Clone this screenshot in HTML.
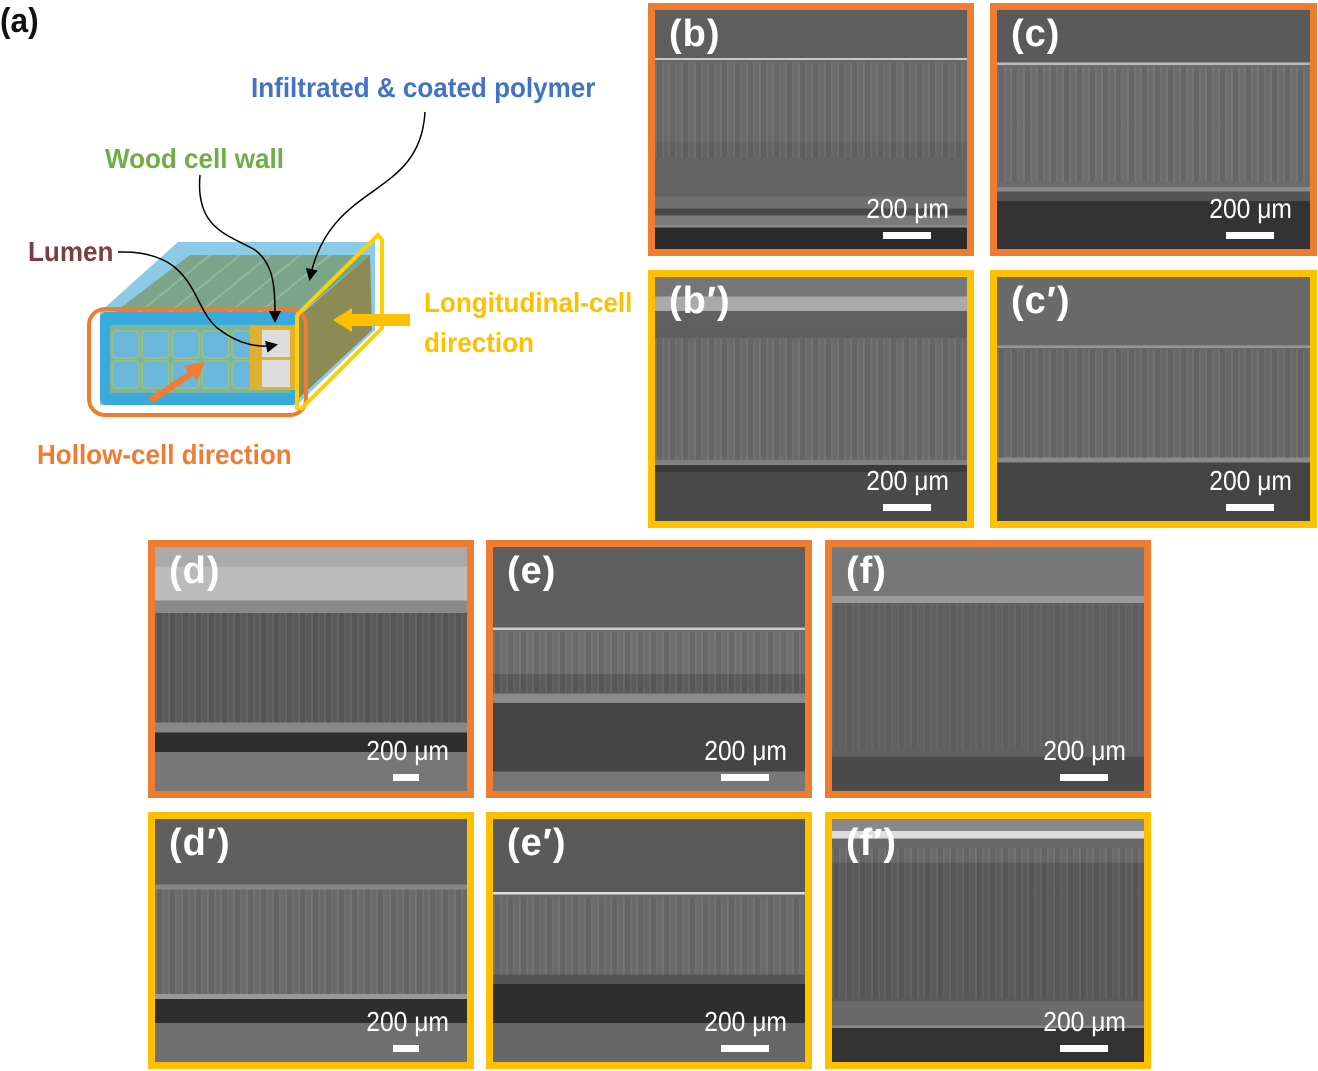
<!DOCTYPE html>
<html><head><meta charset="utf-8"><style>
body{margin:0;background:#fff;}
#c{position:relative;width:1318px;height:1071px;overflow:hidden;font-family:"Liberation Sans",sans-serif;}
.p{position:absolute;box-sizing:border-box;border:7px solid #EE7D31;overflow:hidden;}
.y{border-color:#FFC000;}
.p .l{position:absolute;left:14px;top:3px;color:#fff;font-weight:bold;font-size:38px;letter-spacing:1px;}
.p .s{position:absolute;right:18px;bottom:24px;color:#fff;font-size:28px;transform:scaleX(0.88);transform-origin:right;}
.p .b{position:absolute;bottom:10px;width:48px;height:7px;background:#fff;right:36px;}
.t{position:absolute;font-weight:bold;font-size:28px;transform:scaleX(0.93);transform-origin:left;white-space:nowrap;}
.tex{position:absolute;left:0;right:0;background:repeating-linear-gradient(90deg,rgba(255,255,255,0.06) 0 2px,rgba(0,0,0,0.05) 2px 7px,rgba(255,255,255,0.04) 7px 9px,rgba(0,0,0,0) 9px 13px);}
</style></head><body><div id="c">
<div class="t" style="left:0;top:2px;color:#111;font-size:34px;">(a)</div>
<div class="t" style="left:251px;top:72px;color:#4472C4;">Infiltrated &amp; coated polymer</div>
<div class="t" style="left:105px;top:143px;color:#70AD47;">Wood cell wall</div>
<div class="t" style="left:28px;top:236px;color:#7B3F3F;">Lumen</div>
<div class="t" style="left:424px;top:287px;color:#FFC000;">Longitudinal-cell</div>
<div class="t" style="left:424px;top:327px;color:#FFC000;">direction</div>
<div class="t" style="left:37px;top:439px;color:#EE7D31;">Hollow-cell direction</div>
<svg style="position:absolute;left:0;top:0" width="640" height="540">
<defs><marker id="ar" markerWidth="8" markerHeight="8" refX="6" refY="4" orient="auto"><path d="M0,0 L8,4 L0,8z" fill="#000"/></marker></defs>
<polygon points="100,312 178,242 375,242 375,330 297,405 100,405" fill="#8ccbe6"/>
<polygon points="115,312 190,255 370,255 295,318" fill="#7aa58a"/>
<g stroke="#9fc7a8" stroke-width="2" opacity=".6"><line x1="140" y1="312" x2="210" y2="255"/><line x1="170" y1="312" x2="240" y2="255"/><line x1="200" y1="312" x2="270" y2="255"/><line x1="230" y1="312" x2="300" y2="255"/><line x1="260" y1="312" x2="330" y2="255"/></g>
<polygon points="297,318 370,255 372,330 297,400" fill="#8c8a55"/>
<rect x="100" y="312" width="197" height="93" rx="6" fill="#3aa9dc"/>
<rect x="110" y="325" width="180" height="68" fill="#7fb59a"/>
<g fill="#6bb7db" stroke="#93c08a" stroke-width="2">
<rect x="112" y="331" width="27" height="27" rx="4"/><rect x="142" y="331" width="27" height="27" rx="4"/><rect x="172" y="331" width="27" height="27" rx="4"/><rect x="202" y="331" width="27" height="27" rx="4"/><rect x="232" y="331" width="27" height="27" rx="4"/>
<rect x="112" y="361" width="27" height="27" rx="4"/><rect x="142" y="361" width="27" height="27" rx="4"/><rect x="172" y="361" width="27" height="27" rx="4"/><rect x="202" y="361" width="27" height="27" rx="4"/><rect x="232" y="361" width="27" height="27" rx="4"/></g>
<rect x="250" y="325" width="45" height="65" fill="#e0b030"/>
<rect x="262" y="330" width="28" height="27" fill="#ddd"/><rect x="262" y="360" width="28" height="27" fill="#ddd"/>
<rect x="89" y="309" width="217" height="106" rx="16" fill="none" stroke="#EE7D31" stroke-width="4"/>
<polyline points="297,315 378,235 382,240 382,328 300,410" fill="none" stroke="#FFD000" stroke-width="4"/>
<line x1="297" y1="315" x2="297" y2="410" stroke="#FFD000" stroke-width="4"/>
<polygon points="148,398 188,372 184,366 205,362 197,381 193,376 153,403" fill="#EE7D31"/>
<polygon points="410,314 352,314 352,308 333,320 352,332 352,326 410,326" fill="#FFC000"/>
<path d="M118,252 C200,250 190,310 220,330 C240,345 260,348 275,345" fill="none" stroke="#000" stroke-width="1.5" marker-end="url(#ar)"/>
<path d="M200,175 C195,230 230,235 255,250 C275,265 275,290 275,320" fill="none" stroke="#000" stroke-width="1.5" marker-end="url(#ar)"/>
<path d="M425,112 C420,200 330,180 310,278" fill="none" stroke="#000" stroke-width="1.5" marker-end="url(#ar)"/>
</svg>

<div class="p" style="left:648px;top:3px;width:326px;height:253px;background:linear-gradient(#5e5e5e 0 20%,#c8c8c8 20% 21%,#6b6b6b 21% 55%,#646464 55% 78%,#707070 78% 83%,#4a4a4a 83% 86%,#7a7a7a 86% 90%,#8a8a8a 90% 91%,#2a2a2a 91%);"><div class="tex" style="top:22%;height:40%"></div><div class="l">(b)</div><div class="s">200 μm</div><div class="b"></div></div>
<div class="p" style="left:990px;top:3px;width:327px;height:253px;background:linear-gradient(#5a5a5a 0 22%,#bbb 22% 23%,#6c6c6c 23% 74%,#8a8a8a 74% 76%,#555 76% 80%,#333 80%);"><div class="tex" style="top:24%;height:48%"></div><div class="l">(c)</div><div class="s">200 μm</div><div class="b"></div></div>
<div class="p y" style="left:648px;top:270px;width:326px;height:258px;background:linear-gradient(#777 0 8%,#aaa 8% 14%,#606060 14% 20%,#5f5f5f 20% 25%,#6a6a6a 25% 75%,#808080 75% 77%,#3a3a3a 77% 80%,#4a4a4a 80%);"><div class="tex" style="top:25%;height:50%"></div><div class="l">(b′)</div><div class="s">200 μm</div><div class="b"></div></div>
<div class="p y" style="left:990px;top:270px;width:327px;height:258px;background:linear-gradient(#6a6a6a 0 28%,#999 28% 29%,#686868 29% 74%,#8a8a8a 74% 76%,#444 76%);"><div class="tex" style="top:30%;height:44%"></div><div class="l">(c′)</div><div class="s">200 μm</div><div class="b"></div></div>

<div class="p" style="left:148px;top:540px;width:326px;height:258px;background:linear-gradient(#aaa 0 8%,#bbb 8% 22%,#8a8a8a 22% 27%,#5a5a5a 27% 72%,#888 72% 76%,#2d2d2d 76% 84%,#777 84%);"><div class="tex" style="top:27%;height:45%"></div><div class="l">(d)</div><div class="s">200 μm</div><div class="b" style="width:26px;right:48px"></div></div>
<div class="p" style="left:486px;top:540px;width:326px;height:258px;background:linear-gradient(#5e5e5e 0 33%,#ccc 33% 34%,#6e6e6e 34% 52%,#5c5c5c 52% 60%,#8a8a8a 60% 64%,#454545 64% 92%,#777 92%);"><div class="tex" style="top:35%;height:25%"></div><div class="l">(e)</div><div class="s">200 μm</div><div class="b"></div></div>
<div class="p" style="left:825px;top:540px;width:326px;height:258px;background:linear-gradient(#777 0 20%,#999 20% 23%,#606060 23% 86%,#4a4a4a 86%);"><div class="tex" style="top:23%;height:60%;opacity:.6"></div><div class="l">(f)</div><div class="s">200 μm</div><div class="b"></div></div>

<div class="p y" style="left:148px;top:812px;width:326px;height:257px;background:linear-gradient(#5f5f5f 0 27%,#888 27% 29%,#6a6a6a 29% 72%,#999 72% 74%,#2e2e2e 74% 84%,#707070 84%);"><div class="tex" style="top:29%;height:43%"></div><div class="l">(d′)</div><div class="s">200 μm</div><div class="b" style="width:26px;right:48px"></div></div>
<div class="p y" style="left:486px;top:812px;width:326px;height:257px;background:linear-gradient(#5a5a5a 0 30%,#ddd 30% 31%,#6a6a6a 31% 64%,#555 64% 68%,#2e2e2e 68% 84%,#666 84%);"><div class="tex" style="top:32%;height:32%"></div><div class="l">(e′)</div><div class="s">200 μm</div><div class="b"></div></div>
<div class="p y" style="left:825px;top:812px;width:326px;height:257px;background:linear-gradient(#888 0 5%,#ddd 5% 8%,#6a6a6a 8% 18%,#5a5a5a 18% 75%,#6a6a6a 75% 85%,#888 85% 86%,#333 86%);"><div class="tex" style="top:12%;height:62%"></div><div class="l">(f′)</div><div class="s">200 μm</div><div class="b"></div></div>
</div></body></html>
